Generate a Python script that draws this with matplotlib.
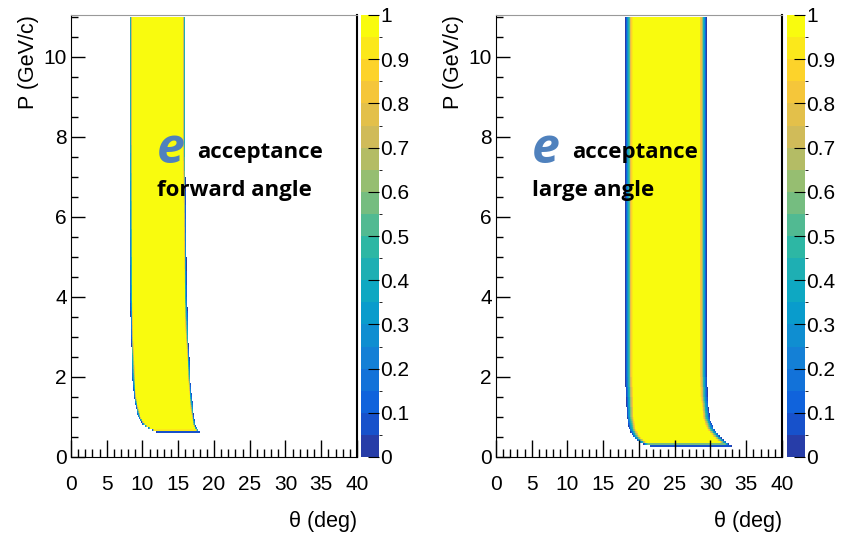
import numpy as np
import matplotlib
matplotlib.use('Agg')
import matplotlib.pyplot as plt
from matplotlib.colors import LinearSegmentedColormap, ListedColormap, BoundaryNorm

# acceptance band edges: P (GeV/c) vs theta (deg)
fwd_p = [0.62, 0.70, 0.80, 1.0, 1.5, 2.0, 3.0, 4.0, 6.0, 8.0, 11.0]
fwd_lo = [12.0, 11.0, 10.1, 9.4, 8.8, 8.6, 8.4, 8.3, 8.25, 8.2, 8.2]
fwd_hi = [18.0, 17.7, 17.4, 17.2, 16.9, 16.7, 16.4, 16.2, 16.1, 16.0, 16.0]

lrg_p = [0.27, 0.35, 0.50, 0.70, 1.0, 1.5, 2.0, 4.0, 8.0, 11.0]
lrg_lo = [21.6, 20.2, 19.2, 18.6, 18.3, 18.2, 18.1, 18.1, 18.1, 18.1]
lrg_hi = [33.0, 32.4, 31.4, 30.5, 29.9, 29.6, 29.5, 29.5, 29.5, 29.5]

panel_text = ['forward angle', 'large angle']
cbar_ticks = [0, 0.1, 0.2, 0.3, 0.4, 0.5, 0.6, 0.7, 0.8, 0.9, 1]
cbar_labels = ['0', '0.1', '0.2', '0.3', '0.4', '0.5', '0.6', '0.7', '0.8', '0.9', '1']

# ROOT kBird palette, 20 contours
stops = np.linspace(0, 1, 9)
red = [0.2082, 0.0592, 0.0780, 0.0232, 0.1802, 0.5301, 0.8186, 0.9956, 0.9764]
green = [0.1664, 0.3599, 0.5041, 0.6419, 0.7178, 0.7492, 0.7328, 0.7862, 0.9832]
blue = [0.5293, 0.8684, 0.8385, 0.7914, 0.6425, 0.4662, 0.3499, 0.1968, 0.0539]
bird = LinearSegmentedColormap.from_list('bird', list(zip(stops, zip(red, green, blue))))
ncont = 20
cmap = ListedColormap([bird((i + 0.99) / ncont) for i in range(ncont)])
norm = BoundaryNorm(np.linspace(0, 1, ncont + 1), ncont)

plt.rcParams['font.family'] = ['Liberation Sans', 'DejaVu Sans']

t_edges = np.arange(0, 40.001, 0.1)
p_edges = np.arange(0, 11.001, 0.05)
tc = 0.5 * (t_edges[1:] + t_edges[:-1])
pc = 0.5 * (p_edges[1:] + p_edges[:-1])
T, P = np.meshgrid(tc, pc)


def acceptance(p_pts, lo_pts, hi_pts, w, wp):
    lo = np.interp(P, p_pts, lo_pts)
    hi = np.interp(P, p_pts, hi_pts)
    depth = np.minimum(T - lo, hi - T) / w
    bottom = (P - p_pts[0]) / wp
    val = np.clip(np.minimum(depth, bottom), 0, 1)
    return np.ma.masked_where(val <= 0, val)


fig = plt.figure(figsize=(8.53, 5.41), dpi=100)
W, H = 853.0, 541.0
afont = ['Open Sans', 'DejaVu Sans']

panels = [
    (acceptance(fwd_p, fwd_lo, fwd_hi, 0.35, 0.06), 71, 361, (12.0, 17.6)),
    (acceptance(lrg_p, lrg_lo, lrg_hi, 1.0, 0.1), 496, 787, (5.05, 10.7)),
]

for k, (z, x0, cx0, (tx, tx2)) in enumerate(panels):
    ax = fig.add_axes([x0 / W, 1 - 457 / H, 286 / W, 442 / H])
    ax.pcolormesh(t_edges, p_edges, z, cmap=cmap, norm=norm, shading='flat')
    ax.set_xlim(0, 40)
    ax.set_ylim(0, 11.05)
    ax.set_xticks(np.arange(0, 41, 5))
    ax.set_xticks(np.arange(0, 41, 1), minor=True)
    ax.set_yticks(np.arange(0, 11, 2))
    ax.set_yticks(np.arange(0, 11.01, 0.5), minor=True)
    ax.tick_params(which='both', direction='in', top=False, right=False,
                   labelsize=15, colors='black', width=1)
    ax.tick_params(which='major', axis='x', length=12)
    ax.tick_params(which='minor', axis='x', length=6)
    ax.tick_params(which='major', axis='y', length=10)
    ax.tick_params(which='minor', axis='y', length=5)
    ax.tick_params(axis='x', pad=13)
    ax.tick_params(axis='y', pad=3)
    ax.spines['top'].set_color('#999999')
    ax.spines['right'].set_linewidth(1.5)
    ax.set_xlabel('θ (deg)', fontsize=15.5, loc='right', labelpad=12)
    ax.set_ylabel('P (GeV/c)', fontsize=15.5, loc='top', labelpad=3)

    ax.text(tx, 7.35, 'e', fontsize=36, fontweight='bold', fontstyle='italic',
            color='#4f81bd', family=afont, va='baseline', zorder=5)
    ax.text(tx2, 7.47, 'acceptance', fontsize=16, fontweight='bold',
            family=afont, va='baseline', zorder=5)
    ax.text(tx, 6.52, panel_text[k], fontsize=16, fontweight='bold',
            family=afont, va='baseline', zorder=5)

    cax = fig.add_axes([cx0 / W, 1 - 457 / H, 18 / W, 442 / H])
    sm = plt.cm.ScalarMappable(norm=norm, cmap=cmap)
    cb = fig.colorbar(sm, cax=cax)
    cb.set_ticks(cbar_ticks)
    cb.set_ticklabels(cbar_labels)
    cb.outline.set_visible(False)
    cax.tick_params(direction='in', length=8, labelsize=15, pad=1)

fig.savefig('out.png', dpi=100)
